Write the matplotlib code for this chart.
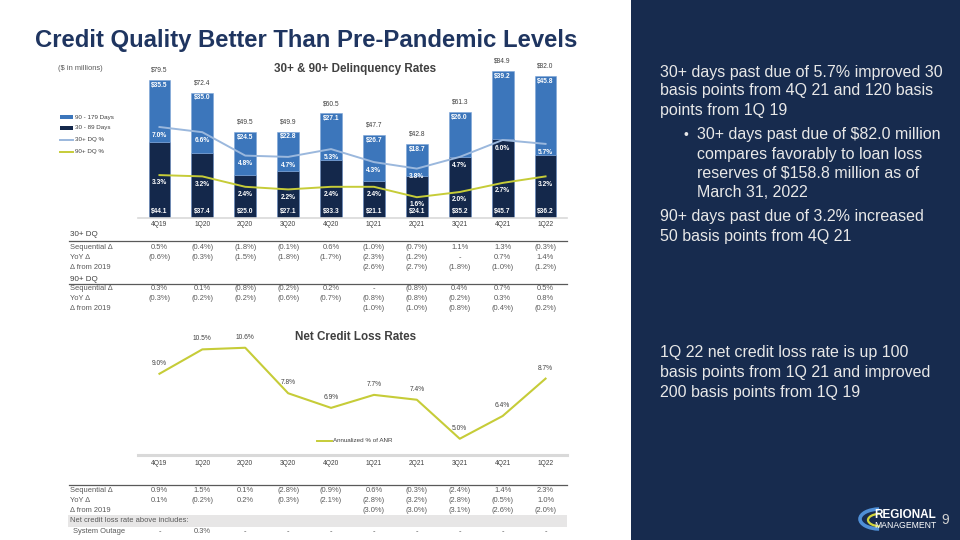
import matplotlib.pyplot as plt
import matplotlib.transforms as mtransforms
from matplotlib.lines import Line2D
from matplotlib.patches import Rectangle, Arc

plt.rcParams['font.family'] = ['Liberation Sans', 'DejaVu Sans']

# ---- data ----
quarters = ['4Q19', '1Q20', '2Q20', '3Q20', '4Q20',
            '1Q21', '2Q21', '3Q21', '4Q21', '1Q22']
dq_30_89 = [44.1, 37.4, 25.0, 27.1, 33.3, 21.1, 24.1, 35.2, 45.7, 36.2]
dq_90_179 = [35.5, 35.0, 24.5, 22.8, 27.1, 26.7, 18.7, 26.0, 39.2, 45.8]
dq_total = [79.5, 72.4, 49.5, 49.9, 60.5, 47.7, 42.8, 61.3, 84.9, 82.0]
dq30_pct = [7.0, 6.6, 4.8, 4.7, 5.3, 4.3, 3.8, 4.7, 6.0, 5.7]
dq90_pct = [3.3, 3.2, 2.4, 2.2, 2.4, 2.4, 1.6, 2.0, 2.7, 3.2]
ncl_rate = [9.0, 10.5, 10.6, 7.8, 6.9, 7.7, 7.4, 5.0, 6.4, 8.7]

dq30_seq = ['0.5%', '(0.4%)', '(1.8%)', '(0.1%)', '0.6%',
            '(1.0%)', '(0.7%)', '1.1%', '1.3%', '(0.3%)']
dq30_yoy = ['(0.6%)', '(0.3%)', '(1.5%)', '(1.8%)', '(1.7%)',
            '(2.3%)', '(1.2%)', '-', '0.7%', '1.4%']
dq30_2019 = ['', '', '', '', '', '(2.6%)', '(2.7%)', '(1.8%)', '(1.0%)', '(1.2%)']
dq90_seq = ['0.3%', '0.1%', '(0.8%)', '(0.2%)', '0.2%',
            '-', '(0.8%)', '0.4%', '0.7%', '0.5%']
dq90_yoy = ['(0.3%)', '(0.2%)', '(0.2%)', '(0.6%)', '(0.7%)',
            '(0.8%)', '(0.8%)', '(0.2%)', '0.3%', '0.8%']
dq90_2019 = ['', '', '', '', '', '(1.0%)', '(1.0%)', '(0.8%)', '(0.4%)', '(0.2%)']
ncl_seq = ['0.9%', '1.5%', '0.1%', '(2.8%)', '(0.9%)',
           '0.6%', '(0.3%)', '(2.4%)', '1.4%', '2.3%']
ncl_yoy = ['0.1%', '(0.2%)', '0.2%', '(0.3%)', '(2.1%)',
           '(2.8%)', '(3.2%)', '(2.8%)', '(0.5%)', '1.0%']
ncl_2019 = ['', '', '', '', '', '(3.0%)', '(3.0%)', '(3.1%)', '(2.6%)', '(2.0%)']
ncl_outage = ['-', '0.3%', '-', '-', '-', '-', '-', '-', '-', '-']

bullets_top = [
    (660, 72, "30+ days past due of 5.7% improved 30"),
    (660, 91, "basis points from 4Q 21 and 120 basis"),
    (660, 110, "points from 1Q 19"),
    (697, 135, "30+ days past due of $82.0 million"),
    (697, 154, "compares favorably to loan loss"),
    (697, 173, "reserves of $158.8 million as of"),
    (697, 192, "March 31, 2022"),
    (660, 217, "90+ days past due of 3.2% increased"),
    (660, 236, "50 basis points from 4Q 21"),
    (660, 353, "1Q 22 net credit loss rate is up 100"),
    (660, 373, "basis points from 1Q 21 and improved"),
    (660, 392, "200 basis points from 1Q 19"),
]

NAVY = '#172B4E'
DARK_BAR = '#14284B'
LIGHT_BAR = '#3C76BB'
LINE30 = '#9BB8DD'
LINE90 = '#C6CC38'
GREY_TXT = '#595959'
AXIS_GREY = '#D9D9D9'


def fx(px):
    return px / 960.0


def fy(py):
    return 1 - py / 540.0


fig = plt.figure(figsize=(9.6, 5.4), dpi=100)
fig.patch.set_facecolor('white')

# right hand panel
fig.add_artist(Rectangle((fx(631), 0), 1 - fx(631), 1, transform=fig.transFigure,
                         facecolor=NAVY, edgecolor='none', zorder=0))

fig.text(fx(35), fy(40), "Credit Quality Better Than Pre-Pandemic Levels",
         fontsize=17.2, fontweight='bold', color='#1F3560', va='center', ha='left')

# ---- delinquency bar chart ----
x = list(range(len(quarters)))
ax = fig.add_axes([fx(138), fy(218), fx(429), 156 / 540.0])
ax.bar(x, dq_30_89, width=0.51, color=DARK_BAR, edgecolor='#5F86C0', linewidth=0.4, zorder=2)
ax.bar(x, dq_90_179, bottom=dq_30_89, width=0.51, color=LIGHT_BAR,
       edgecolor='#7EA5D8', linewidth=0.4, zorder=2)
ax.set_xlim(-0.5, 9.5)
ax.set_ylim(0, 90)
ax.set_yticks([])
for s in ['top', 'left', 'right']:
    ax.spines[s].set_visible(False)
ax.spines['bottom'].set_color(AXIS_GREY)
ax.spines['bottom'].set_linewidth(1.2)
ax.set_xticks(x)
ax.set_xticklabels(quarters, fontsize=4.8, color='#404040')
ax.tick_params(axis='x', length=0, pad=2)
ax.patch.set_alpha(0)

for i in x:
    top = dq_30_89[i] + dq_90_179[i]
    ax.annotate('$%.1f' % dq_total[i], (i, top), xytext=(0, 7), textcoords='offset points',
                ha='center', va='center', fontsize=4.8, color='#404040')
    ax.annotate('$%.1f' % dq_90_179[i], (i, top), xytext=(0, -3.8), textcoords='offset points',
                ha='center', va='center', fontsize=4.8, color='white', fontweight='bold', zorder=5)
    ax.annotate('$%.1f' % dq_30_89[i], (i, 0), xytext=(0, 4.7), textcoords='offset points',
                ha='center', va='center', fontsize=4.8, color='white', fontweight='bold', zorder=5)

ax2 = ax.twinx()
ax2.set_ylim(0, 12)
ax2.axis('off')
ax2.plot(x, dq30_pct, color=LINE30, linewidth=1.4, zorder=3)
ax2.plot(x, dq90_pct, color=LINE90, linewidth=1.4, zorder=3)
for i in x:
    ax2.annotate('%.1f%%' % dq30_pct[i], (i, dq30_pct[i]), xytext=(0, -6.0),
                 textcoords='offset points', ha='center', va='center',
                 fontsize=4.8, color='white', fontweight='bold')
    ax2.annotate('%.1f%%' % dq90_pct[i], (i, dq90_pct[i]), xytext=(0, -5.6),
                 textcoords='offset points', ha='center', va='center',
                 fontsize=4.8, color='white', fontweight='bold')

fig.text(fx(355), fy(69), "30+ & 90+ Delinquency Rates", fontsize=8.4,
         fontweight='bold', color='#404040', ha='center', va='center')
fig.text(fx(58), fy(68), "($ in millions)", fontsize=5.4, color=GREY_TXT,
         ha='left', va='center')

# legend drawn by hand
leg = [('rect', LIGHT_BAR, "90 - 179 Days", 117),
       ('rect', DARK_BAR, "30 - 89 Days", 128),
       ('line', LINE30, "30+ DQ %", 140),
       ('line', LINE90, "90+ DQ %", 152)]
for kind, col, lab, ly in leg:
    if kind == 'rect':
        fig.add_artist(Rectangle((fx(60), fy(ly + 2)), fx(13), 4 / 540.0,
                                 transform=fig.transFigure, facecolor=col, edgecolor='none'))
    else:
        fig.add_artist(Line2D([fx(60), fx(73)], [fy(ly), fy(ly)], color=col, linewidth=1.4,
                              transform=fig.transFigure))
    fig.text(fx(75), fy(ly), lab, fontsize=4.5, color='#404040', ha='left', va='center')

# ---- tables ----
trans = mtransforms.blended_transform_factory(ax.transData, fig.transFigure)


def table_row(label, values, y, indent=70):
    fig.text(fx(indent), fy(y), label, fontsize=5.4, color=GREY_TXT, ha='left', va='center')
    for i, v in enumerate(values):
        fig.text(i, fy(y), v, transform=trans, fontsize=5.4, color=GREY_TXT,
                 ha='center', va='center')


def table_rule(y):
    fig.add_artist(Line2D([fx(69), fx(567)], [fy(y), fy(y)], color='#595959',
                          linewidth=0.9, transform=fig.transFigure))


fig.text(fx(70), fy(235), "30+ DQ", fontsize=5.8, color='#404040', ha='left', va='center')
table_rule(241)
table_row("Sequential \u0394", dq30_seq, 247)
table_row("YoY \u0394", dq30_yoy, 257.5)
table_row("\u0394 from 2019", dq30_2019, 268)

fig.text(fx(70), fy(279.5), "90+ DQ", fontsize=5.8, color='#404040', ha='left', va='center')
table_rule(284)
table_row("Sequential \u0394", dq90_seq, 288.5)
table_row("YoY \u0394", dq90_yoy, 298.5)
table_row("\u0394 from 2019", dq90_2019, 308.5)

# ---- net credit loss chart ----
axn = fig.add_axes([fx(138), fy(455), fx(429), 130 / 540.0])
axn.plot(x, ncl_rate, color=LINE90, linewidth=1.5)
axn.set_xlim(-0.5, 9.5)
axn.set_ylim(4, 12)
axn.set_yticks([])
for s in ['top', 'left', 'right']:
    axn.spines[s].set_visible(False)
axn.spines['bottom'].set_color('#D9D9D9')
axn.spines['bottom'].set_linewidth(2.2)
axn.set_xticks(x)
axn.set_xticklabels(quarters, fontsize=4.8, color='#404040')
axn.tick_params(axis='x', length=0, pad=3.5)
axn.patch.set_alpha(0)
for i in x:
    axn.annotate('%.1f%%' % ncl_rate[i], (i, ncl_rate[i]), xytext=(0, 7.5),
                 textcoords='offset points', ha='center', va='center',
                 fontsize=4.8, color='#404040')

fig.text(fx(356), fy(337), "Net Credit Loss Rates", fontsize=8.4,
         fontweight='bold', color='#404040', ha='center', va='center')
fig.add_artist(Line2D([fx(317), fx(332)], [fy(441), fy(441)], color=LINE90, linewidth=1.4,
                      transform=fig.transFigure))
fig.text(fx(333), fy(441), "Annualized % of ANR", fontsize=4.5, color='#404040',
         ha='left', va='center')

table_rule(485)
table_row("Sequential \u0394", ncl_seq, 490)
table_row("YoY \u0394", ncl_yoy, 500)
table_row("\u0394 from 2019", ncl_2019, 510)
fig.add_artist(Rectangle((fx(68), fy(526.5)), fx(567 - 68), 11.5 / 540.0,
                         transform=fig.transFigure, facecolor='#E7E6E6', edgecolor='none',
                         zorder=0.5))
fig.text(fx(70), fy(520.5), "Net credit loss rate above includes:", fontsize=5.4,
         color=GREY_TXT, ha='left', va='center')
table_row("System Outage", ncl_outage, 531.5, indent=73)

# ---- right panel text ----
for tx, ty, line in bullets_top:
    fig.text(fx(tx), fy(ty), line, fontsize=11.5, color='#E8E8E8', ha='left', va='center')
fig.text(fx(686), fy(135), "\u2022", fontsize=10, color='#E8E8E8', ha='center', va='center')

# ---- logo ----
inch = fig.dpi_scale_trans
fig.add_artist(Arc((8.80, (540 - 519) / 100.0), 0.40, 0.20, theta1=95, theta2=265,
                   color='#4F8FD6', linewidth=2.6, transform=inch))
fig.add_artist(Arc((8.82, (540 - 520) / 100.0), 0.28, 0.13, theta1=110, theta2=250,
                   color='#D3D63A', linewidth=1.6, transform=inch))
fig.text(fx(874), fy(515), "REGIONAL", fontsize=8.5, fontweight='bold', color='white',
         ha='left', va='center')
fig.text(fx(874), fy(525.5), "MANAGEMENT", fontsize=6.2, color='white',
         ha='left', va='center')
fig.text(fx(945), fy(520), "9", fontsize=10, color='#D0D0D0', ha='center', va='center')

fig.savefig('out.png', dpi=100)
